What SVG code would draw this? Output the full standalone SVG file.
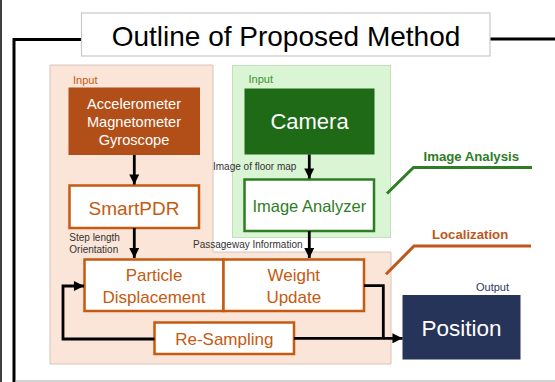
<svg xmlns="http://www.w3.org/2000/svg" width="555" height="382" viewBox="0 0 555 382">
  <defs>
    <marker id="arrow" viewBox="0 0 10 10" refX="10" refY="5" markerWidth="4" markerHeight="3.6" orient="auto" markerUnits="strokeWidth">
      <path d="M0,0 L10,5 L0,10 Z" fill="#000"/>
    </marker>
    <style>
      text { font-family: "Liberation Sans", Arial, sans-serif; }
      .frame { fill: none; stroke: #000; stroke-width: 3; }
      .conn { fill: none; stroke: #000; stroke-width: 2.8; }
      .obox { fill: #fff; stroke: #C55A11; stroke-width: 2.5; }
      .gbox { fill: #fff; stroke: #2E7D24; stroke-width: 2.5; }
      .otxt { fill: #C55A11; text-anchor: middle; }
      .gtxt { fill: #2E7D24; text-anchor: middle; }
      .wtxt { fill: #fff; text-anchor: middle; }
      .small { fill: #333; font-size: 10px; }
    </style>
  </defs>

  <!-- outer frame -->
  <line x1="1" y1="0" x2="1" y2="382" stroke="#000" stroke-width="1.5"/>
  <path class="frame" d="M82,39.5 H14 V382"/>
  <line class="frame" x1="490" y1="39" x2="555" y2="39"/>
  <line x1="15" y1="381" x2="555" y2="381" stroke="#a6a6a6" stroke-width="1.2"/>

  <!-- title -->
  <g id="title">
    <rect x="81.5" y="13" width="408.5" height="43" fill="#fff" stroke="#c8c8c8" stroke-width="1.2"/>
    <text x="286" y="46" font-size="28" text-anchor="middle" fill="#000">Outline of Proposed Method</text>
  </g>

  <!-- group backgrounds -->
  <g id="localization-area">
    <path d="M50,65 H213 V252 H391 V364 H50 Z" fill="#FBE5D8" stroke="#d6c4bb" stroke-width="1"/>
    <text x="73" y="84" font-size="11" fill="#C55A11">Input</text>
  </g>
  <g id="image-area">
    <rect x="232.5" y="65.5" width="158" height="172" fill="#DAF5D3" stroke="#c4dcc0" stroke-width="1"/>
    <text x="248.5" y="83" font-size="11" fill="#3F8F35">Input</text>
  </g>

  <!-- nodes -->
  <g id="sensors">
    <rect x="68.5" y="87.5" width="131.5" height="67.5" fill="#B24F18"/>
    <text class="wtxt" x="134" y="108.5" font-size="14.6">Accelerometer</text>
    <text class="wtxt" x="134" y="127" font-size="14.6">Magnetometer</text>
    <text class="wtxt" x="134" y="145.3" font-size="14.6">Gyroscope</text>
  </g>

  <g id="smartpdr">
    <rect class="obox" x="69.5" y="185.5" width="129.5" height="42.5"/>
    <text class="otxt" x="134" y="215" font-size="19">SmartPDR</text>
  </g>

  <g id="camera">
    <rect x="244.5" y="88.5" width="130" height="66" fill="#1E6A17"/>
    <text class="wtxt" x="309.5" y="129" font-size="22">Camera</text>
  </g>

  <g id="image-analyzer">
    <rect class="gbox" x="244.5" y="179.5" width="129.5" height="51.5"/>
    <text class="gtxt" x="309.3" y="211.7" font-size="16.5">Image Analyzer</text>
  </g>

  <g id="particle-displacement">
    <rect class="obox" x="84.5" y="259.5" width="139" height="51.5"/>
    <text class="otxt" x="154" y="280.7" font-size="17">Particle</text>
    <text class="otxt" x="154" y="302.7" font-size="17">Displacement</text>
  </g>

  <g id="weight-update">
    <rect class="obox" x="223.5" y="259.5" width="140.5" height="51.5"/>
    <text class="otxt" x="293.8" y="280.7" font-size="17">Weight</text>
    <text class="otxt" x="293.8" y="302.7" font-size="17">Update</text>
  </g>

  <g id="re-sampling">
    <rect class="obox" x="154.5" y="322.5" width="139.5" height="31.5"/>
    <text class="otxt" x="224.3" y="345" font-size="17">Re-Sampling</text>
  </g>

  <g id="position">
    <rect x="402.5" y="295" width="118" height="64.5" fill="#263459"/>
    <text class="wtxt" x="461.5" y="335.5" font-size="22.5">Position</text>
    <text x="476" y="290.7" font-size="11" fill="#2B3A60">Output</text>
  </g>

  <!-- stage labels with leader lines -->
  <g id="label-image-analysis">
    <polyline points="387,193.5 413.5,167.5 532,167.5" fill="none" stroke="#2E7D24" stroke-width="3"/>
    <text x="423.5" y="160.7" font-size="13.2" font-weight="bold" fill="#2E7D24">Image Analysis</text>
  </g>
  <g id="label-localization">
    <polyline points="386,274.3 414,246 531,246" fill="none" stroke="#C0561A" stroke-width="3"/>
    <text x="432" y="239.3" font-size="13.2" font-weight="bold" fill="#C0561A">Localization</text>
  </g>

  <!-- connectors -->
  <g id="connectors">
    <line class="conn" x1="134.3" y1="155" x2="134.3" y2="184.5" marker-end="url(#arrow)"/>
    <line class="conn" x1="134.3" y1="228" x2="134.3" y2="258" marker-end="url(#arrow)"/>
    <line class="conn" x1="309.3" y1="154.5" x2="309.3" y2="178.5" marker-end="url(#arrow)"/>
    <line class="conn" x1="309.3" y1="231" x2="309.3" y2="258" marker-end="url(#arrow)"/>
    <polyline class="conn" points="154.5,339 63,339 63,286 84,286" marker-end="url(#arrow)"/>
    <polyline class="conn" points="364,285.7 383.3,285.7 383.3,338.3"/>
    <line class="conn" x1="294" y1="338.3" x2="402.5" y2="338.3" marker-end="url(#arrow)"/>

    <text class="small" x="69.3" y="241">Step length</text>
    <text class="small" x="69.3" y="252.7">Orientation</text>
    <text class="small" x="213" y="170">Image of floor map</text>
    <text class="small" x="193" y="248.3">Passageway Information</text>
  </g>
</svg>
